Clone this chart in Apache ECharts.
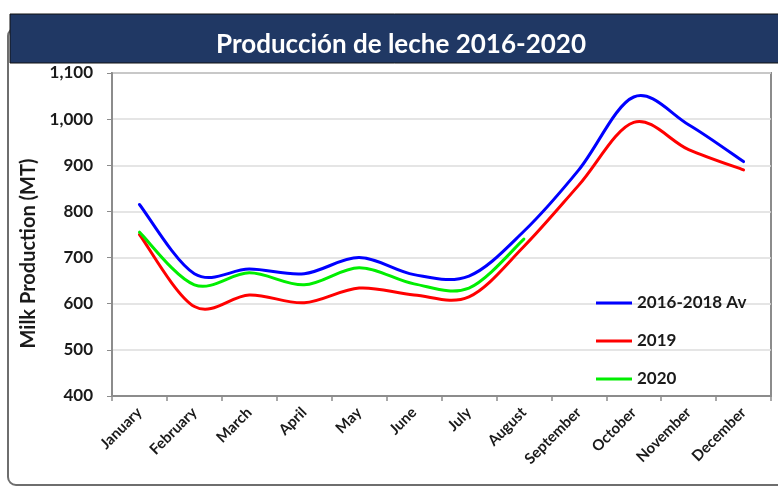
<!DOCTYPE html>
<html>
<head>
<meta charset="utf-8">
<script src="https://cdn.jsdelivr.net/npm/echarts@6/dist/echarts.min.js"></script>
<style>
html,body{margin:0;padding:0;background:#fff;}
#chart{width:778px;height:488px;}
</style>
</head>
<body>
<div id="chart"></div>
<script>
var months = ['January','February','March','April','May','June','July','August','September','October','November','December'];
var avg1618 = [815, 665, 675, 665, 700, 663, 660, 757, 890, 1048, 988, 908];
var y2019 = [750, 594, 619, 602, 634, 619, 615, 724, 857, 993, 934, 890];
var y2020 = [755, 641, 667, 641, 678, 643, 634, 740];
var seriesNames = ['2016-2018 Av', '2019', '2020'];
var seriesColors = ['#0000ff', '#ff0000', '#00ee00'];
var titleText = 'Producción de leche 2016-2020';
var yAxisName = 'Milk Production (MT)';

var FONT = 'Lato';
var chart = echarts.init(document.getElementById('chart'), null, {renderer: 'canvas'});

// Smooth curve (Catmull-Rom style) through points placed by the chart's own scales
function curvePath(vals, api) {
  var p = vals.map(function (v, i) { return api.coord([i, v]); });
  var d = 'M' + p[0][0] + ' ' + p[0][1];
  for (var i = 0; i < p.length - 1; i++) {
    var p0 = p[i - 1] || p[i], p1 = p[i], p2 = p[i + 1], p3 = p[i + 2] || p[i + 1];
    var c1x = p1[0] + (p2[0] - p0[0]) / 6, c1y = p1[1] + (p2[1] - p0[1]) / 6;
    var c2x = p2[0] - (p3[0] - p1[0]) / 6, c2y = p2[1] - (p3[1] - p1[1]) / 6;
    d += ' C' + c1x + ' ' + c1y + ' ' + c2x + ' ' + c2y + ' ' + p2[0] + ' ' + p2[1];
  }
  return d;
}
function mk(name, vals, color) {
  return {
    name: name, type: 'custom', z: 3,
    data: vals.map(function (v, i) { return [i, v]; }),
    encode: {x: 0, y: 1},
    itemStyle: {color: color},
    renderItem: function (params, api) {
      if (params.dataIndex !== 0) return null;
      return {type: 'path', shape: {pathData: curvePath(vals, api)},
        style: {stroke: color, lineWidth: 3, fill: 'none', lineJoin: 'round', lineCap: 'round'}};
    }
  };
}
chart.setOption({
  animation: false,
  backgroundColor: '#fff',
  graphic: [
    {type: 'rect', z: 0, shape: {x: 8, y: 28, width: 820, height: 457, r: 8},
     style: {fill: 'none', stroke: '#6e6e6e', lineWidth: 2}},
    {type: 'rect', z: 10, shape: {x: 10, y: 14, width: 780, height: 49},
     style: {fill: '#203864', stroke: '#111', lineWidth: 1}},
    {type: 'text', z: 11, x: 401, y: 45,
     style: {text: titleText, fill: '#fff', font: 'bold 26px ' + FONT, textAlign: 'center', textVerticalAlign: 'middle'}}
  ],
  grid: {left: 112, top: 73, right: 7, bottom: 92, show: true, borderColor: '#8c8c8c', borderWidth: 2, backgroundColor: 'transparent'},
  legend: {
    orient: 'vertical', left: 591, top: 289, itemGap: 20, itemWidth: 36, itemHeight: 3,
    data: seriesNames.map(function (n) { return {name: n, icon: 'rect'}; }),
    textStyle: {fontFamily: FONT, fontWeight: 'bold', fontSize: 17, color: '#1a1a1a', lineHeight: 18}
  },
  xAxis: {
    type: 'category', data: months, boundaryGap: true,
    axisLine: {lineStyle: {color: '#8c8c8c', width: 2}},
    axisTick: {show: true, length: 5, lineStyle: {color: '#8c8c8c', width: 1.5}},
    axisLabel: {rotate: 45, margin: 14, interval: 0, fontFamily: FONT, fontWeight: 'bold', fontSize: 15, color: '#1a1a1a'}
  },
  yAxis: {
    type: 'value', min: 400, max: 1100, interval: 100,
    name: yAxisName, nameLocation: 'middle', nameGap: 61, nameRotate: 90,
    nameTextStyle: {fontFamily: FONT, fontWeight: 'bold', fontSize: 20, color: '#1a1a1a', padding: [0, 38, 0, 0]},
    axisLine: {show: true, lineStyle: {color: '#8c8c8c', width: 2}},
    axisTick: {show: true, length: 5, lineStyle: {color: '#8c8c8c', width: 1}},
    splitLine: {lineStyle: {color: '#dcdcdc', width: 1.5}},
    axisLabel: {margin: 19, fontFamily: FONT, fontWeight: 'bold', fontSize: 17, color: '#1a1a1a',
      formatter: function (v) { return v.toLocaleString('en-US'); }}
  },
  series: [
    mk(seriesNames[0], avg1618, seriesColors[0]),
    mk(seriesNames[1], y2019, seriesColors[1]),
    mk(seriesNames[2], y2020, seriesColors[2])
  ]
});
</script>
</body>
</html>
